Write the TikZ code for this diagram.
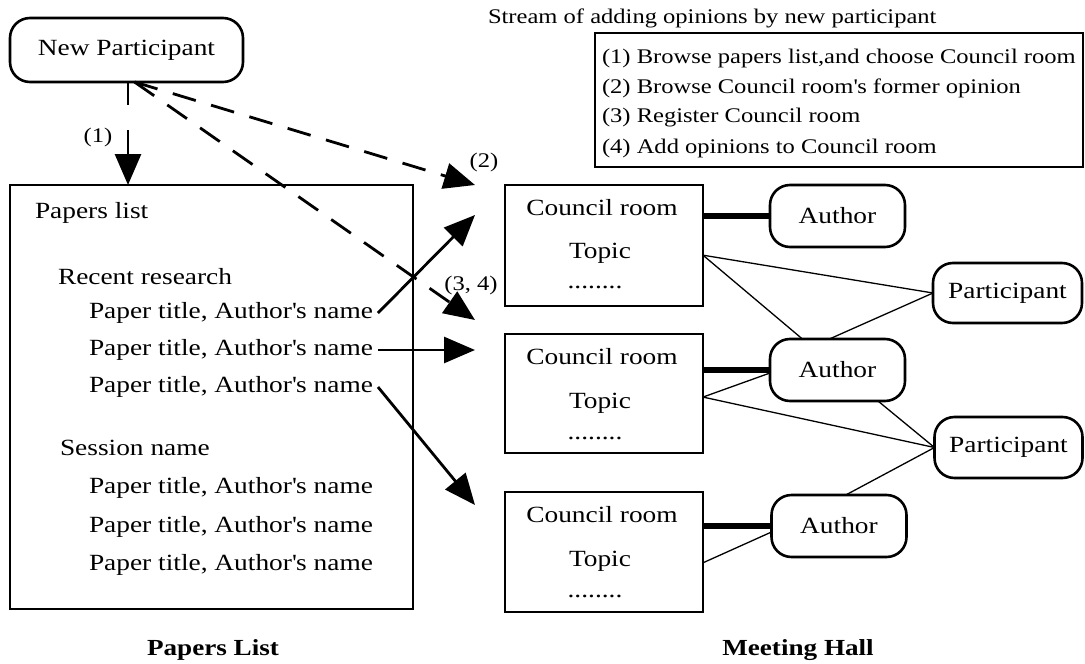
\documentclass[tikz,border=0pt]{standalone}
\usepackage{fontspec}
\setmainfont[FakeStretch=1.18]{Liberation Serif}
\usetikzlibrary{arrows.meta,calc}
\begin{document}
\begin{tikzpicture}[x=1pt,y=-1pt,
  every node/.style={inner sep=0pt, outer sep=0pt},
  main/.style={font=\fontsize{23.2}{27}\selectfont},
  small/.style={font=\fontsize{20.8}{24}\selectfont},
  heading/.style={font=\fontsize{23}{27}\selectfont\bfseries},
  boxframe/.style={draw, line width=2.6pt},
  roundbox/.style={draw, line width=2.6pt, rounded corners=20pt, font=\fontsize{23.2}{27}\selectfont},
  legendbox/.style={draw, line width=1.3pt},
  thinlink/.style={line width=1.3pt},
  thicklink/.style={line width=5.5pt},
  bigtip/.style={-{Triangle[length=31pt,width=26pt]}},
  arr/.style={line width=2.8pt, bigtip},
  dsh/.style={line width=2.8pt, dash pattern=on 24pt off 16pt, bigtip},
]
\useasboundingbox (0,0) rectangle (1085,664);

% new participant
\node[roundbox, minimum width=233pt, minimum height=64pt] (np) at (126.5,50) {New Participant};

% title and legend
\node[small, anchor=west] (ttl) at (488,18) {Stream of adding opinions by new participant};
\node[legendbox, minimum width=488pt, minimum height=134pt] (lg) at (839,100) {};
\node[small, anchor=west] (l1) at (602,58) {(1) Browse papers list,and choose Council room};
\node[small, anchor=west] (l2) at (602,88) {(2) Browse Council room\textquotesingle s former opinion};
\node[small, anchor=west] (l3) at (602,118) {(3) Register Council room};
\node[small, anchor=west] (l4) at (602,148) {(4) Add opinions to Council room};

% papers list
\node[boxframe, minimum width=403pt, minimum height=424pt] (pl) at (211.5,397) {};
\node[main, anchor=west] (plt) at (35,213) {Papers list};
\node[main, anchor=west] (rr) at (58,277) {Recent research};
\node[main, anchor=west] (pt1) at (89,313) {Paper title, Author\textquotesingle s name};
\node[main, anchor=west] (pt2) at (89,350) {Paper title, Author\textquotesingle s name};
\node[main, anchor=west] (pt3) at (89,387) {Paper title, Author\textquotesingle s name};
\node[main, anchor=west] (sn) at (60,448) {Session name};
\node[main, anchor=west] (pt4) at (89,488) {Paper title, Author\textquotesingle s name};
\node[main, anchor=west] (pt5) at (89,527) {Paper title, Author\textquotesingle s name};
\node[main, anchor=west] (pt6) at (89,565) {Paper title, Author\textquotesingle s name};

% council rooms
\node[boxframe, minimum width=198pt, minimum height=121pt] (cr1) at (604,245.5) {};
\node[boxframe, minimum width=198pt, minimum height=119pt] (cr2) at (604,393.5) {};
\node[boxframe, minimum width=198pt, minimum height=120pt] (cr3) at (604,552) {};
\node[main] (cr1a) at (602,208) {Council room};
\node[main] (cr1b) at (600,253) {Topic};
\node[main] (cr1c) at (595,287) {........};
\node[main] (cr2a) at (602,357) {Council room};
\node[main] (cr2b) at (600,403) {Topic};
\node[main] (cr2c) at (595,438) {........};
\node[main] (cr3a) at (602,515) {Council room};
\node[main] (cr3b) at (600,561) {Topic};
\node[main] (cr3c) at (595,596) {........};

% authors and participants
\node[roundbox, minimum width=135pt, minimum height=62pt] (a1) at (837.5,216) {Author};
\node[roundbox, minimum width=135pt, minimum height=62pt] (a2) at (837.5,370) {Author};
\node[roundbox, minimum width=135pt, minimum height=62pt] (a3) at (839,526) {Author};
\node[roundbox, minimum width=149pt, minimum height=60pt] (pa1) at (1007.5,293) {Participant};
\node[roundbox, minimum width=148pt, minimum height=61pt] (pa2) at (1008.5,447.5) {Participant};

% thick links
\draw[thicklink] (a1.west -| cr1.east) -- (a1.west);
\draw[thicklink] (a2.west -| cr2.east) -- (a2.west);
\draw[thicklink] (a3.west -| cr3.east) -- (a3.west);

% thin links
\coordinate (c1e) at ($(cr1.north east)!0.58!(cr1.south east)$);
\coordinate (c2e) at ($(cr2.north east)!0.53!(cr2.south east)$);
\coordinate (c3e) at ($(cr3.north east)!0.59!(cr3.south east)$);
\coordinate (a2t1) at ($(a2.north west)!0.24!(a2.north east)$);
\coordinate (a2t2) at ($(a2.north west)!0.44!(a2.north east)$);
\coordinate (a2b) at ($(a2.south west)!0.8!(a2.south east)$);
\coordinate (a3t) at ($(a3.north west)!0.55!(a3.north east)$);
\draw[thinlink] (c1e) -- (a2t1);
\draw[thinlink] (c1e) -- (pa1.west);
\draw[thinlink] (a2t2) -- (pa1.west);
\draw[thinlink] (c2e) -- ([yshift=-3pt]a2.west);
\draw[thinlink] (c2e) -- (pa2.west);
\draw[thinlink] (a2b) -- (pa2.west);
\draw[thinlink] (pa2.west) -- (a3t);
\draw[thinlink] (c3e) -- ([yshift=-6pt]a3.west);

% arrows from papers list
\coordinate (t1) at (475,215);
\coordinate (t2) at (475,185);
\coordinate (t3) at (475,350);
\coordinate (t4) at (475,505);
\coordinate (t34) at (475,320);
\draw[arr] ([xshift=5pt]pt1.east) -- (t1);
\draw[arr] ([xshift=5pt]pt2.east) -- (t3);
\draw[arr] ([xshift=5pt]pt3.east) -- (t4);

% arrows from new participant
\coordinate (v0) at ([xshift=1.5pt]np.south);
\draw[line width=2.8pt, dash pattern=on 23pt off 25pt on 200pt, bigtip] (v0) -- (v0 |- pl.north);
\coordinate (ds) at ([xshift=8pt]np.south);
\draw[dsh] (ds) -- (t2);
\draw[dsh] (ds) -- (t34);

% labels
\node[small] (lab1) at (98,137) {(1)};
\node[small] (lab2) at (484,162) {(2)};
\node[small] (lab34) at (471,285) {(3, 4)};
\node[heading] (h1) at (213,650) {Papers List};
\node[heading] (h2) at (798,650) {Meeting Hall};
\end{tikzpicture}
\end{document}
